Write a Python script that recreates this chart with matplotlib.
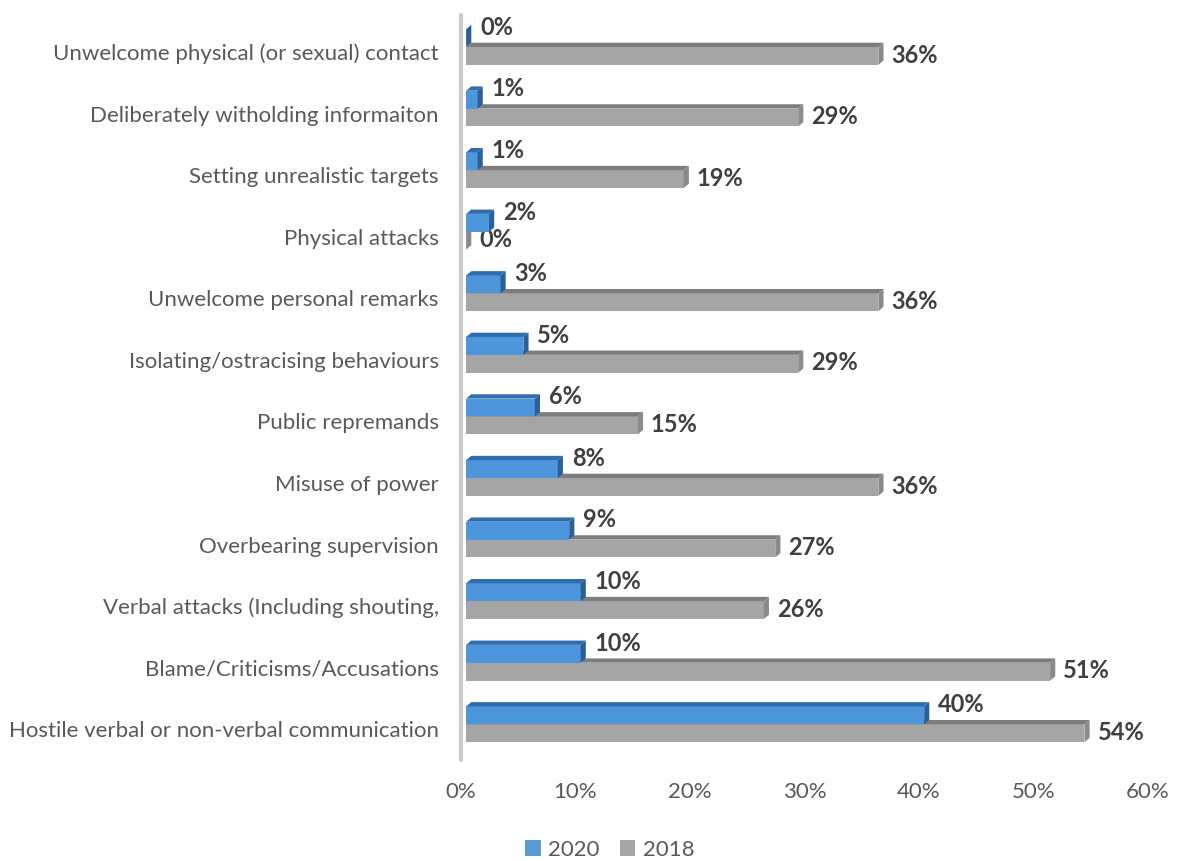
import matplotlib
matplotlib.use("Agg")
import matplotlib.pyplot as plt
from matplotlib.patches import Polygon, Patch

plt.rcParams['font.family'] = ['Lato', 'DejaVu Sans']

categories = [
    "Hostile verbal or non-verbal communication",
    "Blame/Criticisms/Accusations",
    "Verbal attacks (Including shouting,",
    "Overbearing supervision",
    "Misuse of power",
    "Public repremands",
    "Isolating/ostracising behaviours",
    "Unwelcome personal remarks",
    "Physical attacks",
    "Setting unrealistic targets",
    "Deliberately witholding informaiton",
    "Unwelcome physical (or sexual) contact",
]
values_2020 = [40, 10, 10, 9, 8, 6, 5, 3, 2, 1, 1, 0]
values_2018 = [54, 51, 26, 27, 36, 15, 29, 36, 0, 19, 29, 36]
series_names = ["2020", "2018"]
x_ticks = [0, 10, 20, 30, 40, 50, 60]

W, H = 1177, 861
fig = plt.figure(figsize=(W / 100, H / 100), dpi=100)
ax = fig.add_axes([461 / W, 1 - 760 / H, (1148 - 461) / W, 745 / H])
ax.set_xlim(0, 60)
ax.set_ylim(-0.5, 11.6)

# 3D bar geometry (data units)
x_off = 0.45          # front face starts slightly right of the wall
dx = 0.45             # depth in x
dy = 0.07             # depth in y
h_front = 0.29

blue = dict(front="#4e96dc", top="#2f6db0", side="#2a5f9a")
gray = dict(front="#a5a5a5", top="#7d7d7d", side="#8a8a8a")


def bar3d(y0, v, col, z):
    x0, x1 = x_off, x_off + v
    y1 = y0 + h_front
    ax.barh(y0, v, height=h_front, left=x0, align="edge",
            color=col["front"], edgecolor="none", zorder=z)
    ax.add_patch(Polygon([(x0, y1), (x1, y1), (x1 + dx, y1 + dy), (x0 + dx, y1 + dy)],
                         closed=True, facecolor=col["top"], edgecolor="none", zorder=z))
    ax.add_patch(Polygon([(x1, y0), (x1 + dx, y0 + dy), (x1 + dx, y1 + dy), (x1, y1)],
                         closed=True, facecolor=col["side"], edgecolor="none", zorder=z))


label_kw = dict(fontsize=17, fontweight="bold", color="#404040", va="center", ha="left")
for i, (b, g) in enumerate(zip(values_2020, values_2018)):
    # 2018 bar sits lower and behind
    bar3d(i - 0.21, g, gray, 2 + 0.01 * i)
    bar3d(i + 0.08, b, blue, 3 + 0.01 * i)
    ax.annotate(f"{b}%", xy=(x_off + b, i + 0.40), xytext=(14, 0),
                textcoords="offset pixels", **label_kw)
    ax.annotate(f"{g}%", xy=(x_off + g, i - 0.05), xytext=(13, 0),
                textcoords="offset pixels", **label_kw)

ax.set_yticks(range(len(categories)))
ax.set_yticklabels(categories, fontsize=16, color="#595959")
ax.set_xticks(x_ticks)
ax.set_xticklabels([f"{t}%" for t in x_ticks], fontsize=16, color="#595959")
ax.tick_params(axis="both", length=0)
ax.tick_params(axis="y", pad=16)
ax.tick_params(axis="x", pad=16)

for s in ["top", "right", "bottom"]:
    ax.spines[s].set_visible(False)
ax.spines["left"].set_color("#c9c9c9")
ax.spines["left"].set_linewidth(3)
ax.spines["left"].set_capstyle("round")

handles = [Patch(facecolor="#5b9bd5", edgecolor="none"),
           Patch(facecolor="#a5a5a5", edgecolor="none")]
fig.legend(handles, series_names, loc="center", bbox_to_anchor=(610 / W, 1 - 850 / H),
           ncol=2, frameon=False, fontsize=16, labelcolor="#595959",
           handlelength=0.7, handleheight=0.7, handletextpad=0.35, columnspacing=0.9)

fig.savefig("out.png", dpi=100)
